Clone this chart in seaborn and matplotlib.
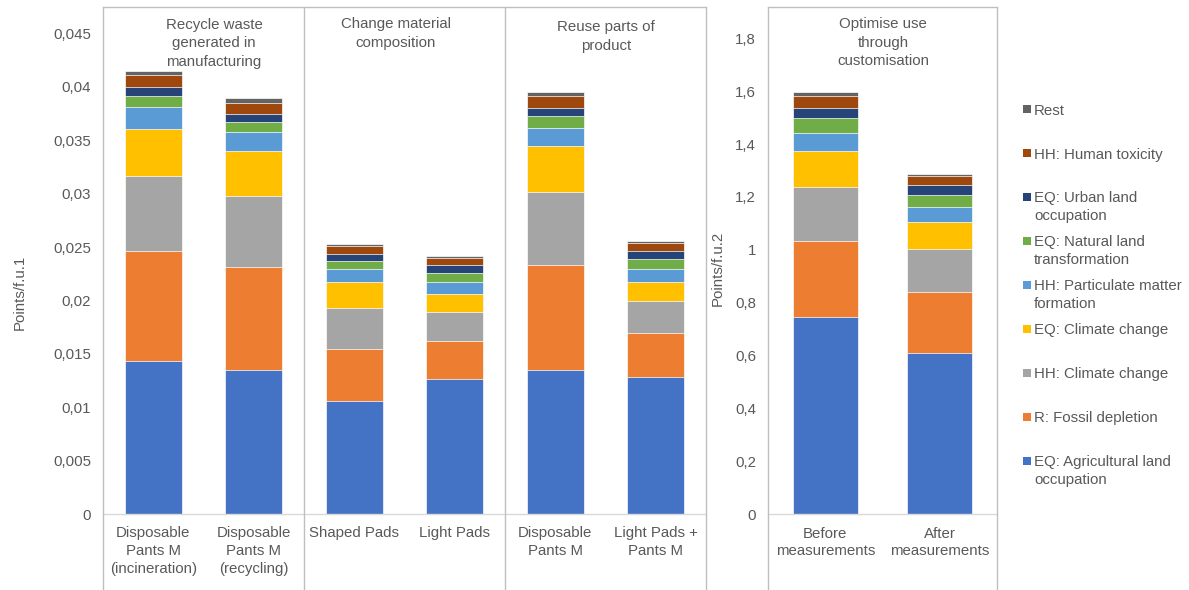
import textwrap

import matplotlib
matplotlib.use("Agg")
import matplotlib.pyplot as plt
from matplotlib.patches import Rectangle
import numpy as np
import seaborn as sns

# ---------------- data ----------------
categories_fu1 = [
    "Disposable\nPants M\n(incineration)",
    "Disposable\nPants M\n(recycling)",
    "Shaped Pads",
    "Light Pads",
    "Disposable\nPants M",
    "Light Pads +\nPants M",
]
categories_fu2 = ["Before\nmeasurements", "After\nmeasurements"]

group_titles = [
    "Recycle waste\ngenerated in\nmanufacturing",
    "Change material\ncomposition",
    "Reuse parts of\nproduct",
    "Optimise use\nthrough\ncustomisation",
]

impact_categories = [
    "EQ: Agricultural land occupation",
    "R: Fossil depletion",
    "HH: Climate change",
    "EQ: Climate change",
    "HH: Particulate matter formation",
    "EQ: Natural land transformation",
    "EQ: Urban land occupation",
    "HH: Human toxicity",
    "Rest",
]

# Points per functional unit 1 (six product scenarios)
agri_land_fu1 = [0.0143, 0.0135, 0.01055, 0.01265, 0.0135, 0.0128]
fossil_fu1 = [0.0103, 0.00963, 0.00489, 0.00353, 0.00978, 0.00413]
hh_climate_fu1 = [0.00705, 0.00665, 0.00383, 0.00272, 0.00685, 0.00302]
eq_climate_fu1 = [0.00445, 0.00418, 0.00247, 0.00171, 0.00434, 0.00181]
particulate_fu1 = [0.00197, 0.00181, 0.00121, 0.00111, 0.00171, 0.00121]
natural_land_fu1 = [0.00106, 0.00097, 0.00075, 0.00086, 0.00111, 0.00091]
urban_land_fu1 = [0.00088, 0.00075, 0.00066, 0.00071, 0.00071, 0.00076]
human_tox_fu1 = [0.00109, 0.00101, 0.00076, 0.00065, 0.00111, 0.00076]
rest_fu1 = [0.00043, 0.00047, 0.00020, 0.00025, 0.00040, 0.00020]

# Points per functional unit 2 (customisation scenario)
agri_land_fu2 = [0.746, 0.611]
fossil_fu2 = [0.288, 0.230]
hh_climate_fu2 = [0.205, 0.163]
eq_climate_fu2 = [0.134, 0.101]
particulate_fu2 = [0.070, 0.058]
natural_land_fu2 = [0.054, 0.046]
urban_land_fu2 = [0.040, 0.035]
human_tox_fu2 = [0.044, 0.034]
rest_fu2 = [0.017, 0.010]

series_fu1 = [agri_land_fu1, fossil_fu1, hh_climate_fu1, eq_climate_fu1,
              particulate_fu1, natural_land_fu1, urban_land_fu1,
              human_tox_fu1, rest_fu1]
series_fu2 = [agri_land_fu2, fossil_fu2, hh_climate_fu2, eq_climate_fu2,
              particulate_fu2, natural_land_fu2, urban_land_fu2,
              human_tox_fu2, rest_fu2]

colors = ["#4472C4", "#ED7D31", "#A5A5A5", "#FFC000", "#5B9BD5",
          "#70AD47", "#264478", "#9E480E", "#636363"]

# ---------------- style ----------------
sns.set_theme(style="white")
plt.rcParams["font.family"] = ["Liberation Sans", "DejaVu Sans"]
TEXT = "#595959"
FRAME = "#BFBFBF"
AXIS = "#D9D9D9"
FS = 10.8

W, H = 1189, 590
fig = plt.figure(figsize=(W / 100, H / 100), dpi=100)


def fx(px):
    return px / W


def fy(py):
    return 1 - py / H


ax1 = fig.add_axes([fx(103), fy(514), fx(706) - fx(103), fy(7) - fy(514)])
ax2 = fig.add_axes([fx(768), fy(514), fx(997) - fx(768), fy(7) - fy(514)])


def stacked(ax, cats, series):
    cum = np.cumsum(np.array(series, dtype=float), axis=0)
    # draw from the top layer down so each lower total overlays the one above
    for layer in range(len(series) - 1, -1, -1):
        sns.barplot(x=cats, y=cum[layer], order=cats, color=colors[layer],
                    saturation=1, width=0.57, errorbar=None,
                    edgecolor="white", linewidth=0.5, ax=ax)


stacked(ax1, categories_fu1, series_fu1)
stacked(ax2, categories_fu2, series_fu2)


def fmt(v, nd):
    s = f"{v:.{nd}f}".rstrip("0").rstrip(".")
    return s.replace(".", ",")


def style_axis(ax, ymax, ticks, nd, separators, ylabel, ylabel_xy):
    ax.set_xlim(-0.5, len(ax.get_xticks()) - 0.5)
    ax.set_ylim(0, ymax)
    ax.set_yticks(ticks)
    ax.set_yticklabels([fmt(t, nd) for t in ticks])
    ax.tick_params(axis="both", length=0, labelsize=FS, labelcolor=TEXT)
    ax.tick_params(axis="y", pad=8.6)
    ax.tick_params(axis="x", pad=9.0)
    for lab in ax.get_xticklabels():
        lab.set_linespacing(1.32)
    for side in ("left", "right"):
        ax.spines[side].set_visible(False)
    ax.spines["top"].set_color(FRAME)
    ax.spines["top"].set_linewidth(1.0)
    ax.spines["bottom"].set_color(AXIS)
    ax.spines["bottom"].set_linewidth(1.0)
    ext = -(590 - 514) / (514 - 7)
    for xs in separators:
        ax.axvline(xs, ymin=ext, ymax=1, color=FRAME, lw=1.0, clip_on=False,
                   zorder=5)
    ax.set_xlabel("")
    ax.set_ylabel(ylabel, fontsize=FS, color=TEXT)
    ax.yaxis.set_label_coords(*ylabel_xy)
    ax.grid(False)


style_axis(ax1, 0.04748, np.linspace(0, 0.045, 10), 3,
           [-0.5, 1.5, 3.5, 5.5], "Points/f.u.1",
           ((27 - 103) / 603, (514 - 292) / 507))
style_axis(ax2, 1.919, np.linspace(0, 1.8, 10), 1,
           [-0.5, 1.5], "Points/f.u.2",
           ((725 - 768) / 229, (514 - 268) / 507))

# group headings (first-line centres given in pixels)
title_pos = [(214, 23.3), (396, 23), (606, 25.5), (883, 22.7)]
for txt, (px, py) in zip(group_titles, title_pos):
    fig.text(fx(px), fy(py - 5.6), txt, ha="center", va="top",
             fontsize=FS, color=TEXT, linespacing=1.42)

# legend, top entry first
for i, (name, col) in enumerate(zip(impact_categories[::-1], colors[::-1])):
    yc = 109.3 + i * 43.9
    fig.add_artist(Rectangle((fx(1023), fy(yc + 4)), fx(8), 8 / H,
                             transform=fig.transFigure, color=col, lw=0))
    fig.text(fx(1034), fy(yc - 5.6), textwrap.fill(name, 22), ha="left",
             va="top", fontsize=FS, color=TEXT, linespacing=1.36)

fig.savefig("out.png", dpi=100)
